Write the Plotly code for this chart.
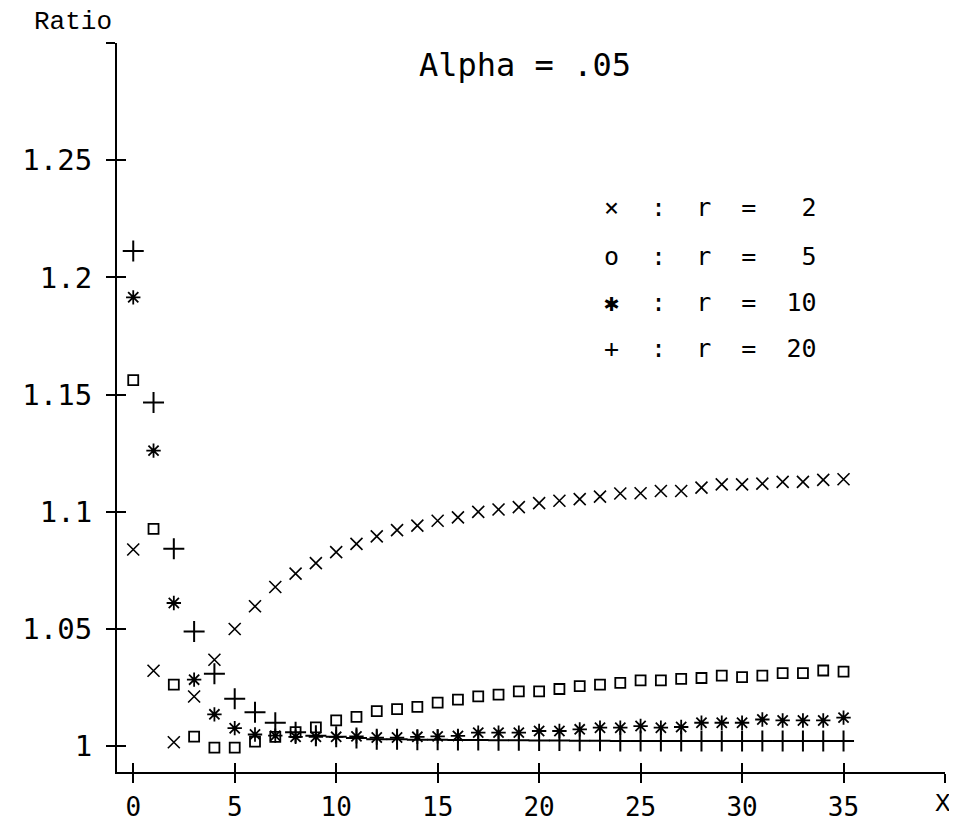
import plotly.graph_objects as go

# ---------------- data ----------------
x_vals = list(range(0, 36))

ratio_r2 = [1.0839, 1.0322, 1.0017, 1.0212, 1.0369, 1.0500, 1.0597, 1.0679, 1.0736, 1.0781,
            1.0828, 1.0863, 1.0895, 1.0922, 1.0941, 1.0962, 1.0976, 1.1000, 1.1010, 1.1020,
            1.1037, 1.1047, 1.1054, 1.1065, 1.1078, 1.1079, 1.1089, 1.1089, 1.1103, 1.1117,
            1.1117, 1.1120, 1.1128, 1.1128, 1.1136, 1.1139]

ratio_r5 = [1.1562, 1.0927, 1.0263, 1.0041, 0.9994, 0.9994, 1.0020, 1.0040, 1.0060, 1.0080,
            1.0110, 1.0125, 1.0150, 1.0158, 1.0168, 1.0186, 1.0199, 1.0213, 1.0220, 1.0234,
            1.0234, 1.0244, 1.0256, 1.0263, 1.0270, 1.0281, 1.0281, 1.0287, 1.0291, 1.0301,
            1.0295, 1.0301, 1.0312, 1.0312, 1.0323, 1.0318]

ratio_r10 = [1.1915, 1.1261, 1.0611, 1.0284, 1.0136, 1.0077, 1.0050, 1.0045, 1.0040, 1.0040,
             1.0040, 1.0042, 1.0037, 1.0037, 1.0040, 1.0042, 1.0044, 1.0058, 1.0058, 1.0058,
             1.0065, 1.0065, 1.0072, 1.0079, 1.0079, 1.0086, 1.0079, 1.0082, 1.0100, 1.0100,
             1.0100, 1.0114, 1.0110, 1.0110, 1.0110, 1.0122]

ratio_r20 = [1.2113, 1.1466, 1.0842, 1.0489, 1.0309, 1.0203, 1.0145, 1.0100, 1.0060, 1.0045,
             1.0040, 1.0035, 1.0030, 1.0030, 1.0028, 1.0028, 1.0026, 1.0026, 1.0025, 1.0025,
             1.0024, 1.0024, 1.0023, 1.0023, 1.0022, 1.0022, 1.0022, 1.0022, 1.0022, 1.0022,
             1.0022, 1.0022, 1.0022, 1.0022, 1.0022, 1.0022]

x_tickvals = [0, 5, 10, 15, 20, 25, 30, 35, 40]
x_ticktext = ["0", "5", "10", "15", "20", "25", "30", "35", ""]
y_tickvals = [1.0, 1.05, 1.1, 1.15, 1.2, 1.25, 1.3]
y_ticktext = ["1", "1.05", "1.1", "1.15", "1.2", "1.25", ""]

legend_symbols = ["×", "o", "✱", "+"]
legend_labels = [":  r  =   2", ":  r  =   5", ":  r  =  10", ":  r  =  20"]
title_text = "Alpha = .05"
y_title = "Ratio"
x_title = "X"

# ---------------- figure ----------------
PLOT_FONT = "DejaVu Sans Mono"
TYPE_FONT = "Liberation Mono"

fig = go.Figure()

series = [
    (ratio_r2, "x-thin-open", 12, 1.6, "x", "y"),
    (ratio_r5, "square-open", 10, 1.8, "x", "y"),
    (ratio_r10, "asterisk-open", 12, 1.8, "x", "y"),
    # same ranges on the overlay axes, which carry the inner half of the crossing ticks
    (ratio_r20, "cross-thin-open", 15, 2.0, "x2", "y2"),
]
for yv, sym, size, lw, xa, ya in series:
    fig.add_trace(go.Scatter(
        x=x_vals, y=yv, mode="markers", xaxis=xa, yaxis=ya,
        marker=dict(symbol=sym, size=size, color="black",
                    line=dict(color="black", width=lw)),
        showlegend=False, hoverinfo="skip"))

X_RANGE = [-0.8, 40.0]
Y_RANGE = [0.989, 1.3]

axis_common = dict(showgrid=False, zeroline=False, tickmode="array",
                   tickcolor="black", tickwidth=2, ticklen=9, automargin=False)

# the page body adds an 8px margin, so the figure is sized/placed to compensate
fig.update_layout(
    width=949, height=817,
    margin=dict(l=109, r=12, t=35, b=53),
    paper_bgcolor="white", plot_bgcolor="white",
    xaxis=dict(range=X_RANGE, tickvals=x_tickvals, ticktext=x_ticktext,
               ticks="outside", showline=True, linecolor="black", linewidth=2,
               tickfont=dict(family=PLOT_FONT, size=26, color="black"),
               ticklabelstandoff=2, **axis_common),
    yaxis=dict(range=Y_RANGE, tickvals=y_tickvals, ticktext=y_ticktext,
               ticks="outside", showline=True, linecolor="black", linewidth=2,
               tickfont=dict(family=PLOT_FONT, size=29, color="black"),
               ticklabelstandoff=8, **axis_common),
    xaxis2=dict(range=X_RANGE, tickvals=x_tickvals, ticktext=x_ticktext,
                overlaying="x", anchor="y2", side="bottom", ticks="inside",
                showline=False, showticklabels=False, **axis_common),
    yaxis2=dict(range=Y_RANGE, tickvals=y_tickvals, ticktext=y_ticktext,
                overlaying="y", anchor="x2", side="left", ticks="inside",
                showline=False, showticklabels=False, **axis_common),
)

annotations = [
    dict(text=title_text, x=0.4928, y=0.9698, xref="paper", yref="paper",
         showarrow=False, xanchor="center", yanchor="middle",
         font=dict(family=PLOT_FONT, size=32, color="black")),
    dict(text=y_title, x=-0.0531, y=1.0288, xref="paper", yref="paper",
         showarrow=False, xanchor="center", yanchor="middle",
         font=dict(family=TYPE_FONT, size=26, color="black")),
    dict(text=x_title, x=0.998, y=-0.0440, xref="paper", yref="paper",
         showarrow=False, xanchor="center", yanchor="middle",
         font=dict(family=TYPE_FONT, size=26, color="black")),
]
legend_y = [0.7737, 0.7078, 0.6447, 0.5816]
for sym, lab, ly in zip(legend_symbols, legend_labels, legend_y):
    annotations.append(dict(text=sym, x=0.5978, y=ly, xref="paper", yref="paper",
                            showarrow=False, xanchor="center", yanchor="middle",
                            font=dict(family=PLOT_FONT, size=25, color="black")))
    annotations.append(dict(text=lab.replace(" ", "\u00a0"), x=0.6420, y=ly,
                            xref="paper", yref="paper", showarrow=False,
                            xanchor="left", yanchor="middle",
                            font=dict(family=PLOT_FONT, size=25, color="black")))
fig.update_layout(annotations=annotations)

fig.write_html("out.html")
